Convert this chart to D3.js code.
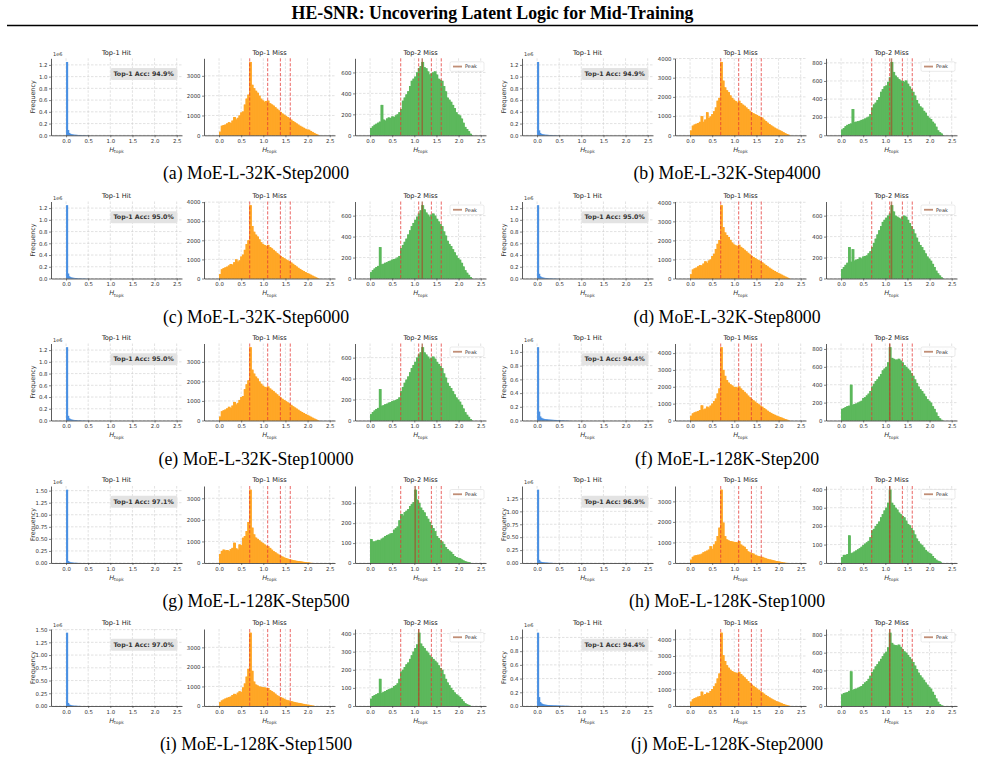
<!DOCTYPE html>
<html>
<head>
<meta charset="utf-8">
<script src="https://cdn.jsdelivr.net/npm/d3@7"></script>
<style>
  body { margin: 0; background: #fff; }
  svg text { font-family: "DejaVu Sans", sans-serif; }
</style>
</head>
<body>
<div id="chart"></div>
<script>
/**
 * Data
 */

const title = "HE-SNR: Uncovering Latent Logic for Mid-Training"

const captions = [
    "(a) MoE-L-32K-Step2000", "(b) MoE-L-32K-Step4000",
    "(c) MoE-L-32K-Step6000", "(d) MoE-L-32K-Step8000",
    "(e) MoE-L-32K-Step10000", "(f) MoE-L-128K-Step200",
    "(g) MoE-L-128K-Step500", "(h) MoE-L-128K-Step1000",
    "(i) MoE-L-128K-Step1500", "(j) MoE-L-128K-Step2000"
]

const accuracies = ["94.9%", "94.9%", "95.0%", "95.0%", "95.0%", "94.4%", "97.1%", "96.9%", "97.0%", "94.4%"]

const subTitles = ["Top-1 Hit", "Top-1 Miss", "Top-2 Miss"]
const xTicks = [0, 0.5, 1.0, 1.5, 2.0, 2.5]
const refLines = [0.693, 1.099, 1.386, 1.609]   // ln2 .. ln5
const hitTickStep = [0.2, 0.2, 0.2, 0.2, 0.2, 0.2, 0.25, 0.25, 0.25, 0.2]

// bin widths of the histograms
const hitBin = 0.025
const missBin = 0.04

// Top-1 Hit counts (x 1e6), bins of 0.025 from 0
const hit_a = [1.25, 0.09, 0.04, 0.025, 0.018, 0.014, 0.011, 0.009, 0.008, 0.007, 0.006, 0.005, 0.005, 0.004, 0.004, 0.003, 0.003, 0.003, 0.002, 0.002]
const hit_b = [1.25, 0.085, 0.04, 0.024, 0.018, 0.014, 0.011, 0.009, 0.008, 0.007, 0.006, 0.005, 0.005, 0.004, 0.004, 0.003, 0.003, 0.002, 0.002, 0.002]
const hit_c = [1.25, 0.085, 0.038, 0.024, 0.017, 0.013, 0.011, 0.009, 0.008, 0.007, 0.006, 0.005, 0.004, 0.004, 0.003, 0.003, 0.003, 0.002, 0.002, 0.001]
const hit_d = [1.25, 0.08, 0.038, 0.023, 0.017, 0.013, 0.01, 0.009, 0.007, 0.006, 0.006, 0.005, 0.004, 0.004, 0.003, 0.003, 0.002, 0.002, 0.002, 0.001]
const hit_e = [1.25, 0.08, 0.037, 0.023, 0.016, 0.012, 0.01, 0.008, 0.007, 0.006, 0.005, 0.005, 0.004, 0.003, 0.003, 0.003, 0.002, 0.002, 0.002, 0.001]
const hit_f = [1.07, 0.13, 0.06, 0.04, 0.03, 0.025, 0.02, 0.018, 0.016, 0.014, 0.013, 0.012, 0.011, 0.01, 0.009, 0.008, 0.008, 0.007, 0.006, 0.006, 0.005, 0.005, 0.004, 0.004, 0.003, 0.003, 0.002, 0.002, 0.002, 0.001]
const hit_g = [1.52, 0.04, 0.025, 0.015, 0.01, 0.007, 0.005, 0.004, 0.003, 0.002, 0.002, 0.001]
const hit_h = [1.42, 0.06, 0.03, 0.02, 0.015, 0.012, 0.01, 0.008, 0.006, 0.005, 0.004, 0.003, 0.002, 0.002, 0.001]
const hit_i = [1.44, 0.06, 0.03, 0.02, 0.012, 0.008, 0.006, 0.005, 0.004, 0.003, 0.002, 0.002, 0.001]
const hit_j = [1.07, 0.13, 0.058, 0.04, 0.03, 0.024, 0.02, 0.018, 0.016, 0.014, 0.013, 0.012, 0.011, 0.01, 0.009, 0.008, 0.008, 0.007, 0.006, 0.006, 0.005, 0.005, 0.004, 0.004, 0.003, 0.003, 0.002, 0.002, 0.002, 0.001]

// Top-1 Miss counts, bins of 0.04 from 0
const miss1_a = [180, 480, 520, 540, 600, 660, 620, 740, 920, 800, 880, 1000, 1150, 1200, 1550, 1850, 2050, 3700, 2550, 2380, 2250, 2150, 2000, 1850, 1760, 1690, 1730, 1750, 1620, 1560, 1500, 1420, 1340, 1260, 1180, 1100, 1040, 980, 920, 850, 790, 720, 660, 600, 540, 480, 430, 380, 330, 290, 280, 220, 170, 120, 70, 30, 8]
const miss1_b = [250, 500, 560, 600, 640, 700, 1000, 700, 820, 1200, 900, 980, 1100, 1250, 1450, 1800, 1950, 3820, 2850, 2500, 2350, 2250, 2080, 1950, 1850, 1780, 1700, 1800, 1680, 1600, 1540, 1450, 1370, 1280, 1200, 1150, 1100, 1060, 1000, 960, 920, 820, 740, 660, 590, 520, 460, 400, 350, 300, 260, 210, 160, 110, 65, 28, 6]
const miss1_c = [230, 480, 540, 580, 620, 680, 760, 720, 850, 1000, 880, 950, 1150, 1250, 1500, 1800, 2000, 3840, 2750, 2450, 2300, 2200, 2050, 1900, 1800, 1750, 1700, 1760, 1650, 1580, 1500, 1420, 1340, 1260, 1180, 1120, 1060, 1000, 950, 900, 840, 770, 700, 630, 560, 500, 440, 390, 340, 290, 250, 200, 150, 105, 62, 26, 6]
const miss1_d = [220, 470, 530, 570, 640, 700, 680, 780, 900, 820, 940, 1000, 1180, 1300, 1550, 1820, 2020, 3850, 2700, 2420, 2280, 2180, 2030, 1890, 1790, 1740, 1700, 1770, 1660, 1590, 1510, 1430, 1350, 1270, 1190, 1130, 1070, 1010, 960, 910, 850, 780, 710, 640, 570, 510, 450, 395, 345, 295, 250, 200, 150, 105, 60, 25, 6]
const miss1_e = [200, 470, 520, 560, 620, 700, 640, 760, 950, 820, 900, 1050, 1200, 1250, 1600, 1850, 2050, 3750, 2600, 2400, 2250, 2150, 2000, 1880, 1780, 1720, 1690, 1740, 1640, 1570, 1500, 1420, 1340, 1260, 1180, 1110, 1050, 990, 930, 870, 800, 730, 670, 610, 550, 490, 435, 385, 335, 290, 245, 195, 145, 100, 60, 25, 6]
const miss1_f = [280, 420, 480, 520, 560, 620, 900, 650, 700, 820, 760, 880, 1000, 1150, 1300, 1600, 1900, 4350, 3000, 2650, 2400, 2250, 2150, 2080, 2000, 1980, 1950, 2020, 1900, 1800, 1700, 1600, 1480, 1380, 1280, 1200, 1120, 1040, 960, 880, 820, 740, 660, 580, 510, 450, 390, 340, 290, 250, 210, 170, 125, 85, 50, 20, 5]
const miss1_g = [420, 560, 620, 580, 600, 550, 640, 700, 940, 680, 620, 860, 820, 1170, 1250, 1480, 1900, 3400, 1640, 1330, 1180, 1120, 1050, 980, 920, 860, 800, 780, 700, 620, 550, 500, 440, 390, 340, 300, 260, 230, 200, 175, 155, 130, 115, 100, 90, 80, 65, 52, 42, 32, 22, 8, 3]
const miss1_h = [160, 300, 360, 380, 400, 410, 450, 520, 560, 600, 650, 820, 690, 900, 1050, 1310, 1720, 3570, 1970, 1310, 1150, 1100, 1070, 1050, 1030, 1020, 1000, 1070, 900, 840, 790, 680, 570, 520, 480, 460, 400, 360, 330, 310, 300, 260, 230, 200, 175, 160, 135, 115, 95, 80, 65, 45, 25, 12, 4]
const miss1_i = [200, 280, 330, 380, 420, 450, 480, 560, 620, 580, 680, 750, 720, 950, 1150, 1500, 1900, 3750, 1800, 1250, 1100, 1050, 1000, 980, 960, 950, 930, 920, 820, 760, 700, 630, 550, 500, 450, 420, 370, 320, 290, 270, 250, 220, 195, 175, 160, 150, 125, 105, 85, 70, 60, 40, 20, 8]
const miss1_j = [260, 400, 470, 510, 560, 600, 860, 640, 720, 800, 780, 900, 1020, 1180, 1350, 1650, 1950, 4400, 3050, 2700, 2450, 2300, 2180, 2100, 2030, 2000, 1960, 2050, 1920, 1820, 1720, 1610, 1500, 1390, 1290, 1210, 1130, 1050, 970, 890, 820, 740, 660, 590, 520, 455, 395, 340, 290, 250, 205, 165, 120, 80, 45, 18, 4]

// Top-2 Miss counts, bins of 0.04 from 0
const miss2_a = [70, 85, 100, 110, 120, 130, 290, 150, 140, 160, 170, 165, 180, 175, 190, 200, 220, 250, 330, 360, 390, 420, 470, 520, 540, 560, 600, 640, 660, 700, 650, 640, 610, 580, 590, 600, 610, 580, 540, 530, 520, 470, 420, 360, 340, 320, 290, 260, 220, 200, 190, 160, 120, 80, 60, 40, 15, 3]
const miss2_b = [64, 80, 100, 115, 125, 130, 290, 145, 150, 155, 160, 170, 175, 185, 195, 205, 235, 305, 340, 360, 390, 420, 480, 510, 540, 550, 590, 640, 810, 700, 660, 640, 620, 605, 600, 590, 605, 570, 540, 510, 480, 440, 390, 350, 320, 305, 270, 250, 215, 195, 180, 150, 130, 95, 55, 35, 20, 3]
const miss2_c = [60, 80, 95, 110, 120, 300, 135, 140, 150, 155, 165, 170, 180, 185, 190, 200, 215, 290, 320, 350, 380, 420, 460, 500, 530, 560, 590, 620, 650, 700, 660, 630, 610, 590, 610, 620, 600, 570, 545, 520, 500, 450, 410, 360, 330, 310, 280, 250, 220, 195, 180, 150, 115, 80, 55, 35, 14, 3]
const miss2_d = [90, 110, 130, 150, 300, 160, 280, 170, 180, 185, 200, 190, 210, 215, 220, 240, 260, 300, 340, 380, 420, 460, 500, 540, 560, 580, 600, 620, 700, 640, 600, 590, 580, 570, 590, 600, 590, 560, 530, 500, 470, 430, 390, 350, 320, 300, 270, 240, 210, 190, 170, 140, 110, 75, 50, 30, 12, 3]
const miss2_e = [60, 80, 95, 110, 120, 300, 140, 145, 155, 160, 170, 175, 185, 190, 195, 205, 220, 280, 320, 360, 390, 420, 460, 500, 530, 560, 600, 630, 650, 700, 650, 630, 610, 590, 600, 610, 590, 560, 540, 520, 500, 450, 410, 360, 330, 310, 280, 250, 220, 200, 180, 150, 115, 80, 55, 35, 14, 3]
const miss2_f = [130, 140, 150, 160, 165, 400, 175, 185, 190, 200, 210, 220, 250, 260, 280, 300, 330, 380, 410, 440, 460, 490, 520, 560, 580, 600, 650, 820, 700, 690, 680, 680, 690, 670, 650, 620, 600, 580, 560, 530, 500, 460, 420, 380, 350, 330, 300, 270, 240, 220, 200, 160, 130, 90, 50, 25, 8, 2]
const miss2_g = [120, 108, 108, 112, 116, 114, 122, 127, 135, 140, 143, 148, 150, 167, 175, 183, 214, 246, 238, 255, 262, 270, 286, 295, 305, 368, 318, 302, 278, 265, 254, 235, 222, 206, 190, 175, 160, 135, 125, 115, 108, 95, 80, 70, 62, 56, 45, 35, 30, 26, 24, 18, 13, 9, 6, 4, 2]
const miss2_h = [32, 44, 44, 48, 150, 53, 56, 62, 68, 74, 80, 88, 97, 105, 112, 120, 140, 177, 185, 200, 212, 225, 248, 265, 285, 300, 327, 398, 327, 315, 300, 290, 274, 265, 255, 248, 230, 212, 205, 190, 177, 155, 133, 118, 105, 97, 85, 71, 62, 55, 50, 38, 27, 18, 12, 9, 3]
const miss2_i = [40, 55, 60, 65, 70, 150, 72, 78, 82, 88, 92, 96, 100, 110, 115, 125, 150, 190, 200, 215, 230, 240, 260, 280, 300, 320, 340, 405, 345, 330, 320, 305, 295, 280, 270, 260, 250, 240, 225, 210, 200, 175, 150, 130, 115, 100, 88, 75, 65, 58, 50, 38, 26, 16, 10, 6, 2]
const miss2_j = [130, 145, 150, 155, 170, 390, 180, 190, 195, 205, 215, 225, 245, 265, 280, 305, 340, 380, 410, 445, 470, 500, 530, 560, 590, 610, 660, 825, 710, 690, 685, 680, 690, 665, 640, 615, 600, 575, 550, 525, 495, 455, 415, 375, 345, 320, 295, 265, 240, 215, 195, 160, 125, 85, 48, 22, 7, 2]

const hitData = [hit_a, hit_b, hit_c, hit_d, hit_e, hit_f, hit_g, hit_h, hit_i, hit_j]
const miss1Data = [miss1_a, miss1_b, miss1_c, miss1_d, miss1_e, miss1_f, miss1_g, miss1_h, miss1_i, miss1_j]
const miss2Data = [miss2_a, miss2_b, miss2_c, miss2_d, miss2_e, miss2_f, miss2_g, miss2_h, miss2_i, miss2_j]

/**
 * Layout
 */

const colX = [0, 471]
const subLeft = [51, 204, 355]
const rowBottom = [135.3, 278.5, 420.5, 563, 706]
const axW = 131
const axH = 77
const xDomain = [-0.34, 2.62]
const colors = ["#4a90e2", "#ffa726", "#5cb85c"]

const svg = d3.select("#chart")
    .append("svg")
        .attr("width", 985)
        .attr("height", 761)

svg.append("text")
    .attr("x", 492.5)
    .attr("y", 19)
    .attr("text-anchor", "middle")
    .style("font-family", "'Liberation Serif', serif")
    .style("font-weight", "bold")
    .style("font-size", "17.8px")
    .text(title)

svg.append("line")
    .attr("x1", 7).attr("x2", 978)
    .attr("y1", 25.5).attr("y2", 25.5)
    .attr("stroke", "#000")
    .attr("stroke-width", 1.6)

function styleAxis(a) {
    a.attr("font-family", "DejaVu Sans").attr("font-size", 5.4)
    a.select(".domain").attr("stroke", "#333").attr("stroke-width", 0.8)
    a.selectAll(".tick line").attr("stroke", "#333").attr("stroke-width", 0.6)
    a.selectAll(".tick text").attr("fill", "#333")
}

function drawHist(g, values, binW, kind, opts) {
    let x = d3.scaleLinear().domain(xDomain).range([0, axW])
    let top = d3.max(values) * 1.05
    let y = d3.scaleLinear().domain([0, top]).range([axH, 0])

    let yTicks = kind === 0
        ? d3.range(0, top + 1e-9, opts.step)
        : y.ticks(5)

    // grid
    let grid = g.append("g")
        .attr("stroke", "#cfcfcf")
        .attr("stroke-width", 0.6)
        .attr("stroke-dasharray", "2.5,1.5")
    grid.selectAll("line.gx").data(xTicks).enter().append("line")
        .attr("x1", d => x(d)).attr("x2", d => x(d))
        .attr("y1", 0).attr("y2", axH)
    grid.selectAll("line.gy").data(yTicks).enter().append("line")
        .attr("x1", 0).attr("x2", axW)
        .attr("y1", d => y(d)).attr("y2", d => y(d))

    // bars (slight overlap so no seams show between neighbours)
    let bins = values.map((v, j) => ({ x0: j * binW, x1: (j + 1) * binW, v: v }))
    g.append("g")
        .selectAll("rect")
        .data(bins)
        .enter()
        .append("rect")
            .attr("x", d => x(d.x0))
            .attr("width", (d, j) => x(d.x1) - x(d.x0) + (j < bins.length - 1 ? 1 : 0))
            .attr("y", d => y(d.v))
            .attr("height", d => axH - y(d.v))
            .attr("fill", colors[kind])

    // re-draw each bar top edge so overlaps don't hide taller neighbours
    if (kind > 0) {
        g.append("g")
            .selectAll("rect")
            .data(bins)
            .enter()
            .append("rect")
                .attr("x", d => x(d.x0))
                .attr("width", d => x(d.x1) - x(d.x0))
                .attr("y", d => y(d.v))
                .attr("height", d => axH - y(d.v))
                .attr("fill", colors[kind])
    }

    // log(k) reference lines
    if (kind > 0) {
        g.append("g")
            .selectAll("line")
            .data(refLines)
            .enter()
            .append("line")
                .attr("x1", d => x(d)).attr("x2", d => x(d))
                .attr("y1", 0).attr("y2", axH)
                .attr("stroke", "#e53935")
                .attr("stroke-width", 0.9)
                .attr("stroke-dasharray", "3.2,1.7")
                .attr("opacity", 0.85)
    }

    // peak line + legend
    if (kind === 2) {
        let pk = bins[d3.maxIndex(bins, d => d.v)]
        let px = x((pk.x0 + pk.x1) / 2)
        g.append("line")
            .attr("x1", px).attr("x2", px)
            .attr("y1", 0).attr("y2", axH)
            .attr("stroke", "#a0522d")
            .attr("stroke-width", 1.5)
            .attr("opacity", 0.7)

        let lg = g.append("g").attr("transform", "translate(95,3.5)")
        lg.append("rect")
            .attr("width", 34).attr("height", 9.5).attr("rx", 1.5)
            .attr("fill", "#fff").attr("fill-opacity", 0.85)
            .attr("stroke", "#d5d5d5").attr("stroke-width", 0.5)
        lg.append("line")
            .attr("x1", 3).attr("x2", 12).attr("y1", 4.75).attr("y2", 4.75)
            .attr("stroke", "#a0522d").attr("stroke-width", 1.8).attr("opacity", 0.65)
        lg.append("text")
            .attr("x", 15).attr("y", 6.6)
            .style("font-size", "5px")
            .attr("fill", "#333")
            .text("Peak")
    }

    // axes
    let xa = g.append("g")
        .attr("transform", "translate(0," + axH + ")")
        .call(d3.axisBottom(x).tickValues(xTicks).tickFormat(d3.format(".1f"))
            .tickSize(2).tickSizeOuter(0).tickPadding(2))
    styleAxis(xa)

    let fmt = kind === 0
        ? (opts.step === 0.25 ? d3.format(".2f") : d3.format(".1f"))
        : d3.format("d")
    let ya = g.append("g")
        .call(d3.axisLeft(y).tickValues(yTicks).tickFormat(fmt)
            .tickSize(2).tickSizeOuter(0).tickPadding(1.5))
    styleAxis(ya)

    // titles and labels
    g.append("text")
        .attr("x", axW / 2).attr("y", -3.8)
        .attr("text-anchor", "middle")
        .style("font-size", "6.6px")
        .attr("fill", "#222")
        .text(subTitles[kind])

    let xl = g.append("text")
        .attr("x", axW / 2).attr("y", axH + 16.5)
        .attr("text-anchor", "middle")
        .style("font-size", "6.6px")
        .attr("fill", "#333")
    xl.append("tspan").style("font-style", "italic").text("H")
    xl.append("tspan").attr("dy", 1.5).style("font-size", "4.4px").text("topk")

    if (kind === 0) {
        g.append("text")
            .attr("transform", "translate(-18.5," + (axH / 2) + ") rotate(-90)")
            .attr("text-anchor", "middle")
            .attr("dy", "0.35em")
            .style("font-size", "6.4px")
            .attr("fill", "#333")
            .text("Frequency")

        g.append("text")
            .attr("x", 2).attr("y", -2)
            .style("font-size", "5px")
            .attr("fill", "#333")
            .text("1e6")

        let acc = g.append("g")
        let t = acc.append("text")
            .attr("x", axW * 0.96 - 3).attr("y", 15.5)
            .attr("text-anchor", "end")
            .attr("dy", "0.35em")
            .style("font-size", "6.3px")
            .style("font-weight", "bold")
            .attr("fill", "#333")
            .text("Top-1 Acc: " + opts.acc)
        let bb = t.node().getBBox()
        acc.insert("rect", "text")
            .attr("x", bb.x - 3).attr("y", bb.y - 2)
            .attr("width", bb.width + 6).attr("height", bb.height + 4)
            .attr("rx", 2)
            .attr("fill", "#e3e3e3")
    }
}

captions.forEach((cap, i) => {
    let r = Math.floor(i / 2)
    let c = i % 2
    let ox = colX[c]
    let top = rowBottom[r] - axH
    let sets = [
        [hitData[i], hitBin],
        [miss1Data[i], missBin],
        [miss2Data[i], missBin]
    ]
    sets.forEach((s, k) => {
        let g = svg.append("g")
            .attr("transform", "translate(" + (ox + subLeft[k]) + "," + top + ")")
        drawHist(g, s[0], s[1], k, { step: hitTickStep[i], acc: accuracies[i] })
    })

    svg.append("text")
        .attr("x", ox + 256)
        .attr("y", rowBottom[r] + 44)
        .attr("text-anchor", "middle")
        .style("font-family", "'Liberation Serif', serif")
        .style("font-size", "17.8px")
        .text(cap)
})
</script>
</body>
</html>
